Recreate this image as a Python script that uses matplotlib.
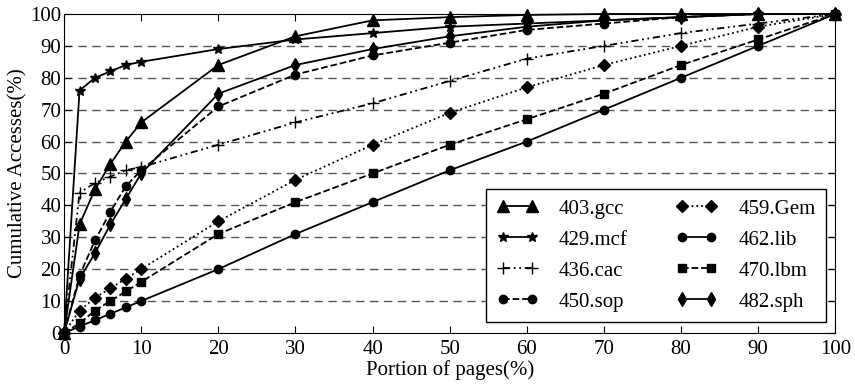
import matplotlib
matplotlib.use("Agg")
import matplotlib.pyplot as plt

plt.rcParams['font.family'] = ['Liberation Serif', 'DejaVu Serif']
plt.rcParams['mathtext.fontset'] = 'stix'

pages = [0, 2, 4, 6, 8, 10, 20, 30, 40, 50, 60, 70, 80, 90, 100]

gcc = [0, 34, 45, 53, 60, 66, 84, 93, 98, 99, 99.7, 100, 100, 100, 100]
mcf = [0, 76, 80, 82, 84, 85, 89, 92, 94, 96, 97, 98, 99, 100, 100]
cac = [0, 44, 47, 49, 51, 52, 59, 66, 72, 79, 86, 90, 94, 97, 100]
sop = [0, 18, 29, 38, 46, 51, 71, 81, 87, 91, 95, 97, 99, 100, 100]
gem = [0, 7, 11, 14, 17, 20, 35, 48, 59, 69, 77, 84, 90, 96, 100]
lib = [0, 2, 4, 6, 8, 10, 20, 31, 41, 51, 60, 70, 80, 90, 100]
lbm = [0, 3, 7, 10, 13, 16, 31, 41, 50, 59, 67, 75, 84, 92, 100]
sph = [0, 17, 25, 34, 42, 50, 75, 84, 89, 93, 96, 98, 99, 100, 100]

names = ['403.gcc', '429.mcf', '436.cac', '450.sop',
         '459.Gem', '462.lib', '470.lbm', '482.sph']
series = [gcc, mcf, cac, sop, gem, lib, lbm, sph]
markers = ['^', '*', '+', 'o', 'D', 'o', 's', 'd']
styles = ['-', '-', (0, (4, 2, 1, 2, 1, 2)), '--', ':', '-', '--', '-']
msizes = [8, 7, 8, 6, 6, 6, 6, 7]

fig = plt.figure(figsize=(8.55, 3.88), dpi=100)
ax = fig.add_axes([0.075, 0.142, 0.902, 0.822])

for y in range(10, 100, 10):
    ax.axhline(y, color='#555555', ls=(0, (6, 4)), lw=1.0, zorder=0)

for name, vals, m, ls, ms in zip(names, series, markers, styles, msizes):
    ax.plot(pages, vals, color='black', marker=m, ls=ls, lw=1.3, ms=ms,
            markeredgewidth=1.0, label=name, clip_on=False)

ax.set_xlim(0, 100)
ax.set_ylim(0, 100)
ax.set_xticks(range(0, 101, 10))
ax.set_yticks(range(0, 101, 10))
ax.tick_params(direction='in', top=True, right=True, labelsize=15, length=5)
ax.tick_params(axis='x', pad=5)
ax.tick_params(axis='y', pad=2)
ax.set_xlabel('Portion of pages(%)', fontsize=15, labelpad=1)
ax.set_ylabel('Cumulative Accesses(%)', fontsize=15, labelpad=2)

leg = ax.legend(ncol=2, loc='lower right', bbox_to_anchor=(0.988, 0.034),
                fontsize=15, numpoints=2, handlelength=2.0, fancybox=False,
                edgecolor='black', framealpha=1, borderaxespad=0,
                borderpad=0.5, labelspacing=0.55, columnspacing=2.3,
                handletextpad=1.0)
leg.get_frame().set_linewidth(1.0)

fig.savefig('out.png', dpi=100)
